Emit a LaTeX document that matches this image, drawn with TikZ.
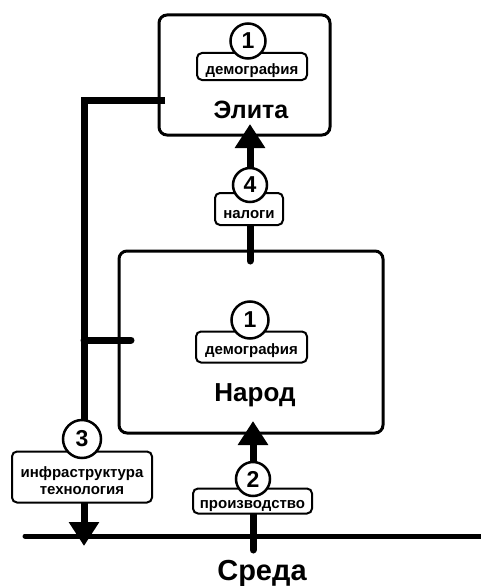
\documentclass[tikz,border=0pt]{standalone}
\usepackage{fontspec}
\setmainfont{Liberation Sans}
\usetikzlibrary{arrows.meta,calc}
\newcommand\lbltxt[1]{\rule{0pt}{19pt}#1}
\begin{document}
\begin{tikzpicture}[x=1pt,y=-1pt,
  bigbox/.style={draw,line width=3pt,rounded corners=8pt,inner sep=0pt},
  lbl/.style={draw,line width=2pt,rounded corners=5pt,fill=white,inner sep=0pt,font=\bfseries\fontsize{15}{17}\selectfont,align=center},
  num/.style={circle,draw,line width=2.5pt,fill=white,inner sep=0pt,minimum size=34pt,font=\bfseries\fontsize{23}{25}\selectfont},
  title/.style={font=\bfseries\fontsize{25}{28}\selectfont},
  thickline/.style={line width=7pt},
  bigtip/.style={-{Triangle[width=29pt,length=24pt]}}
]
\useasboundingbox (0,0) rectangle (481,586);
% boxes
\node[bigbox,minimum width=171pt,minimum height=120pt] (elite) at (244.5,75) {};
\node[bigbox,minimum width=264pt,minimum height=182pt] (narod) at (251,342) {};
% environment line
\coordinate (sL) at (25,536);
\coordinate (sR) at (481,536);
\draw[line width=5pt,line cap=round] (sL) -- (sR);
% left vertical connector
\coordinate (eStub) at (165,100);
\coordinate (corner) at (84,100);
\coordinate (nStub) at (131,340);
\coordinate (nJoin) at (84,340);
\coordinate (tip3) at (84,546);
\draw[thickline,bigtip] (eStub) -- (corner) -- (tip3);
\draw[thickline,line cap=round] (nJoin) -- (nStub);
% arrow 4
\coordinate (a4s) at (250,261);
\coordinate (a4e) at (250,124);
\draw[thickline,bigtip,line cap=round] (a4s) -- (a4e);
% arrow 2
\coordinate (a2s) at (253,550);
\coordinate (a2e) at (253,421);
\draw[thickline,bigtip,line cap=round] (a2s) -- (a2e);
% labels
\node[lbl,minimum width=110pt,minimum height=27pt] (ldem1) at (252,66.5) {\lbltxt{демография}};
\node[num,minimum size=35pt] (n1a) at (248,41) {1};
\node[title] (telite) at (251,110) {Элита};

\node[lbl,minimum width=68pt,minimum height=32pt] (lnal) at (249,209) {\lbltxt{налоги}};
\node[num] (n4) at (250,185) {4};

\node[lbl,minimum width=111pt,minimum height=31pt] (ldem2) at (251.5,347) {\lbltxt{демография}};
\node[num,minimum size=37pt] (n1b) at (250,320) {1};
\node[title,font=\bfseries\fontsize{26}{28}\selectfont] (tnarod) at (255,395) {Народ};

\node[lbl,minimum width=140pt,minimum height=51pt] (linf) at (82,477) {\lbltxt{инфраструктура}\\технология};
\node[num,minimum size=38pt] (n3) at (82,439) {3};

\node[lbl,minimum width=119pt,minimum height=25pt] (lpro) at (252.5,501) {\rule{0pt}{18pt}производство};
\node[num] (n2) at (253,479) {2};

\node[title,font=\bfseries\fontsize{29}{31}\selectfont] (tsreda) at (262,573) {Среда};
\end{tikzpicture}
\end{document}
